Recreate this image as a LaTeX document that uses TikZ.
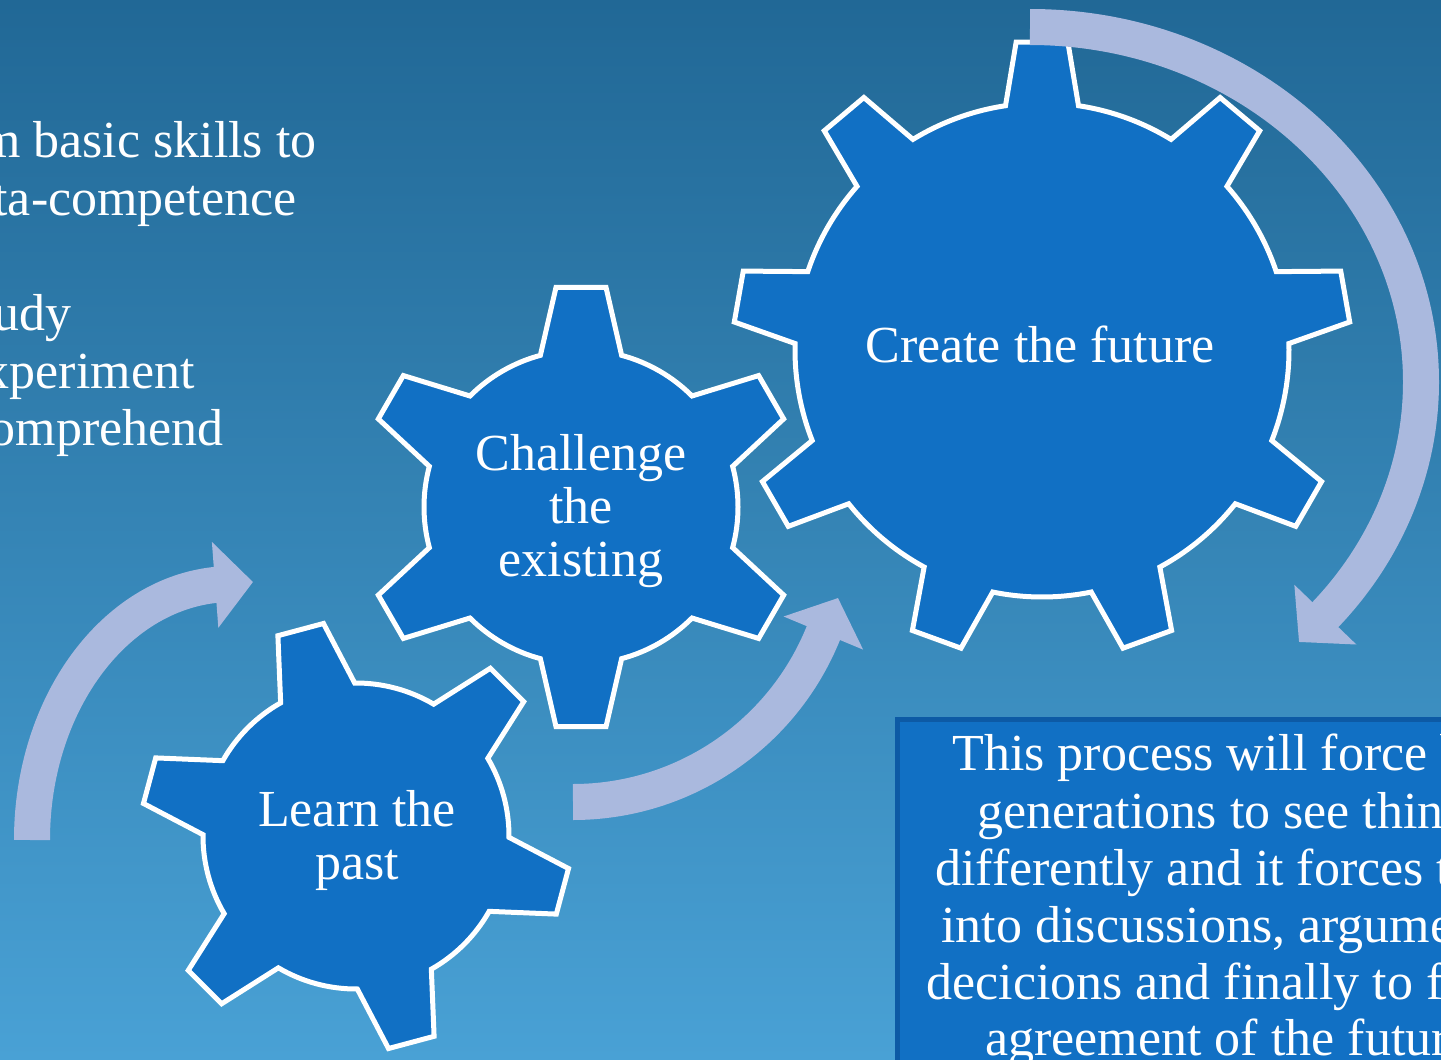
\documentclass[tikz,border=0pt]{standalone}
\usepackage{fontspec}
\setmainfont{Liberation Serif}
\usetikzlibrary{calc,arrows.meta}

\definecolor{bgtop}{HTML}{216896}
\definecolor{bgbottom}{HTML}{49A1D5}
\definecolor{gearblue}{HTML}{1170C4}
\definecolor{arrowlilac}{HTML}{AAB9DE}
\definecolor{boxedge}{HTML}{0D5AA5}

\tikzset{
  gearbody/.style={fill=gearblue, draw=white, line width=2.5pt, line join=miter},
  gearlabel/.style={text=white, align=center, font=\fontsize{26}{26.5}\selectfont, inner sep=0pt},
  flowarrow/.style={draw=arrowlilac, line width=18pt, -{Triangle[length=19pt,width=42pt]}},
  sidetext/.style={text=white, font=\fontsize{26}{28}\selectfont, inner sep=0pt},
}

\begin{document}
\begin{tikzpicture}[x=0.5pt,y=-0.5pt]

\useasboundingbox (0,0) rectangle (1441,1060);
\clip (0,0) rectangle (1441,1060);
\shade[top color=bgtop, bottom color=bgbottom] (0,0) rectangle (1441,1060);

% gear centres
\coordinate (Gpast) at (356,836);
\coordinate (Gchallenge) at (581,507);
\coordinate (Gfuture) at (1042,350);

% small gear, six teeth
\draw[gearbody] ($(Gpast)+(15-14.5:153)$)
  \foreach \a in {15,75,...,315} {
    -- ($(Gpast)+(\a-6.3:215)$) -- ($(Gpast)+(\a+6.3:215)$)
    -- ($(Gpast)+(\a+14.5:153)$)
    arc[start angle=\a+14.5, end angle=\a+45.5, radius=153]
  } -- cycle;

% middle gear, six teeth
\draw[gearbody] ($(Gchallenge)+(30-15:157)$)
  \foreach \a in {30,90,...,330} {
    -- ($(Gchallenge)+(\a-6.5:221)$) -- ($(Gchallenge)+(\a+6.5:221)$)
    -- ($(Gchallenge)+(\a+15:157)$)
    arc[start angle=\a+15, end angle=\a+45, radius=157]
  } -- cycle;

% big gear, nine teeth
\draw[gearbody] ($(Gfuture)+(30-8.5:247)$)
  \foreach \a in {30,70,...,350} {
    -- ($(Gfuture)+(\a-4.8:309)$) -- ($(Gfuture)+(\a+4.8:309)$)
    -- ($(Gfuture)+(\a+8.5:247)$)
    arc[start angle=\a+8.5, end angle=\a+31.5, radius=247]
  } -- cycle;

\node[gearlabel] (pastlabel) at (357,840) {Learn the\\past};
\node[gearlabel] (challengelabel) at (581,511) {Challenge\\the\\existing};
\node[gearlabel] (futurelabel) at (1040,344) {Create the future};

% arrows
\coordinate (Lstart) at (32,840);
\coordinate (Ltip) at (253,582);
\draw[flowarrow] (Lstart)
  arc[start angle=180, end angle=266, x radius=200, y radius=256] -- (Ltip);

\coordinate (Mstart) at (573,802);
\coordinate (Mtip) at (838,598);
\draw[flowarrow] (Mstart)
  arc[start angle=90, end angle=23, radius=270] -- (Mtip);

\coordinate (Bstart) at (1030,27);
\coordinate (Btip) at (1299,642);
\draw[flowarrow] (Bstart)
  arc[start angle=-90, end angle=41, x radius=391, y radius=355] -- (Btip);

% text box
\draw[fill=gearblue, draw=boxedge, line width=2.5pt] (897,719) rectangle (1470,1090);
\foreach \x/\y/\t [count=\i] in {
    952/770/{This process will force b},
    977/828/{generations to see thin},
    935/885/{differently and it forces t},
    941/942/{into discussions, argume},
    926/999/{decicions and finally to fa},
    985/1055/{agreement of the futur}} {
  \node[sidetext, anchor=base west] (boxline\i) at (\x,\y) {\t};
}

% left list
\foreach \x/\y/\t [count=\i] in {
    317/157/{m basic skills to},
    297/215/{ta-competence},
    72/330/{udy},
    195/388/{xperiment},
    224/445/{omprehend}} {
  \node[sidetext, anchor=base east] (listline\i) at (\x,\y) {\t};
}

\end{tikzpicture}
\end{document}
